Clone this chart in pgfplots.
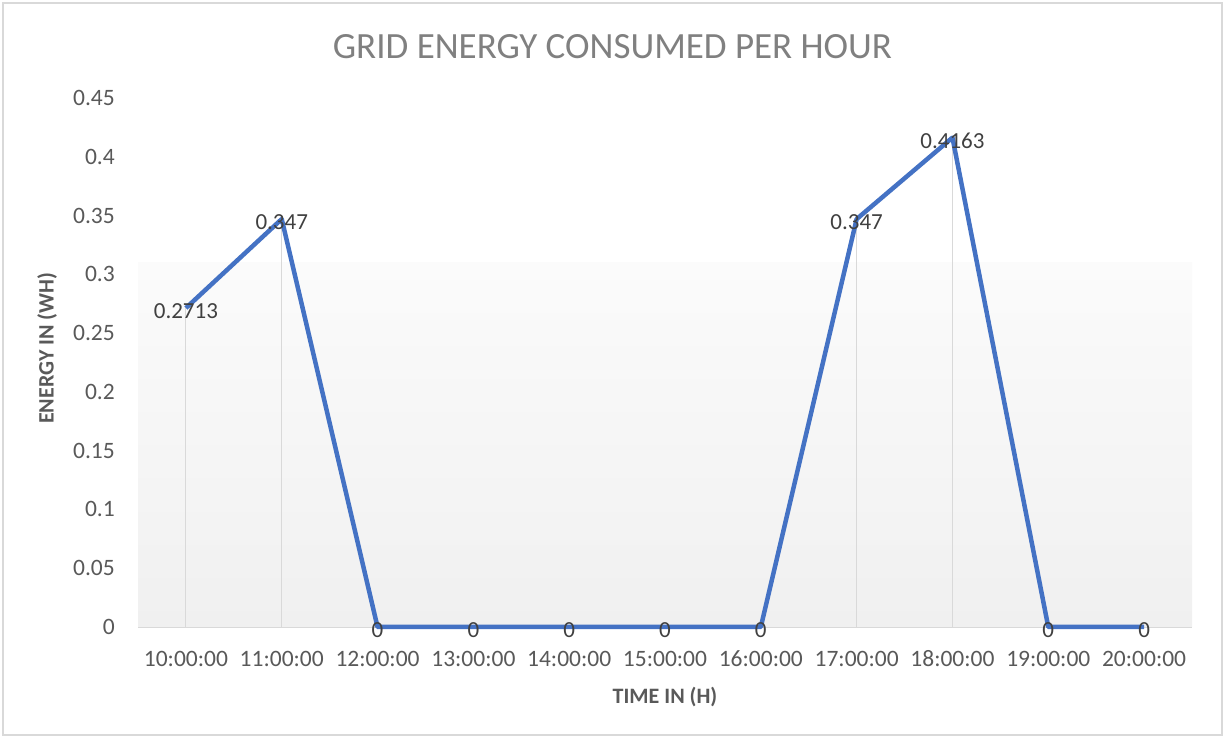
\documentclass[border=0pt]{standalone}
\usepackage{pgfplots}
\pgfplotsset{compat=1.18}
\usepackage{fontspec}
\setmainfont{Carlito}
\definecolor{lineblue}{HTML}{4472C4}
\definecolor{titlegray}{HTML}{808080}
\definecolor{tickgray}{HTML}{595959}
\definecolor{labgray}{HTML}{404040}
\definecolor{gridgray}{HTML}{D9D9D9}
\definecolor{fillgray}{HTML}{F0F0F0}
\definecolor{filltop}{HTML}{FBFBFB}
\pgfplotstableread{
x y label
0 0.2713 0.2713
1 0.347 0.347
2 0 0
3 0 0
4 0 0
5 0 0
6 0 0
7 0.347 0.347
8 0.4163 0.4163
9 0 0
10 0 0
}\datatable
\begin{document}
\begin{tikzpicture}[x=1pt,y=1pt]
\useasboundingbox (0,0) rectangle (1225,738);
\draw[draw=gridgray, line width=1.5pt] (3,3) rectangle (1222,735);
\node[font=\fontsize{37}{40}\selectfont, text=titlegray, anchor=center] at (612.5,691) {GRID ENERGY CONSUMED PER HOUR};
\begin{axis}[
  at={(138pt,111pt)}, anchor=south west,
  scale only axis, width=1054pt, height=529pt,
  xmin=-0.5, xmax=10.5, ymin=0, ymax=0.45,
  clip=false,
  axis x line=bottom, axis y line=left,
  x axis line style={-, draw=gridgray, line width=1.2pt},
  y axis line style={draw=none},
  major tick length=0pt,
  xtick={0,...,10},
  xticklabels={10:00:00,11:00:00,12:00:00,13:00:00,14:00:00,15:00:00,16:00:00,17:00:00,18:00:00,19:00:00,20:00:00},
  ytick={0,0.05,0.1,0.15,0.2,0.25,0.3,0.35,0.4,0.45},
  yticklabels={0,0.05,0.1,0.15,0.2,0.25,0.3,0.35,0.4,0.45},
  /pgf/number format/assume math mode=true,
  ticklabel style={font=\fontsize{23.5}{26}\selectfont, text=tickgray},
  yticklabel style={anchor=east, inner sep=0pt, xshift=-23pt},
  xticklabel style={anchor=center, inner sep=0pt, yshift=-32pt},
  xlabel={TIME IN (H)}, ylabel={ENERGY IN (WH)},
  every axis x label/.style={at={(axis description cs:0.5,-0.1323)}, anchor=center, font=\fontsize{22}{24}\selectfont\bfseries, text=tickgray},
  every axis y label/.style={at={(axis description cs:-0.0863,0.527)}, anchor=center, rotate=90, font=\fontsize{22}{24}\selectfont\bfseries, text=tickgray},
]
\fill[top color=filltop, bottom color=fillgray] (axis cs:-0.5,0) rectangle (axis cs:10.5,0.31);
\addplot[ycomb, draw=gridgray, line width=1pt, forget plot] table[x=x,y=y] {\datatable};
\addplot[lineblue, line width=4.5pt, line join=round, mark=none,
  nodes near coords, point meta=explicit symbolic,
  every node near coord/.style={anchor=center, yshift=-3pt, font=\fontsize{23}{25}\selectfont, text=labgray, inner sep=0pt}]
  table[x=x,y=y,meta=label] {\datatable};
\end{axis}
\end{tikzpicture}
\end{document}
